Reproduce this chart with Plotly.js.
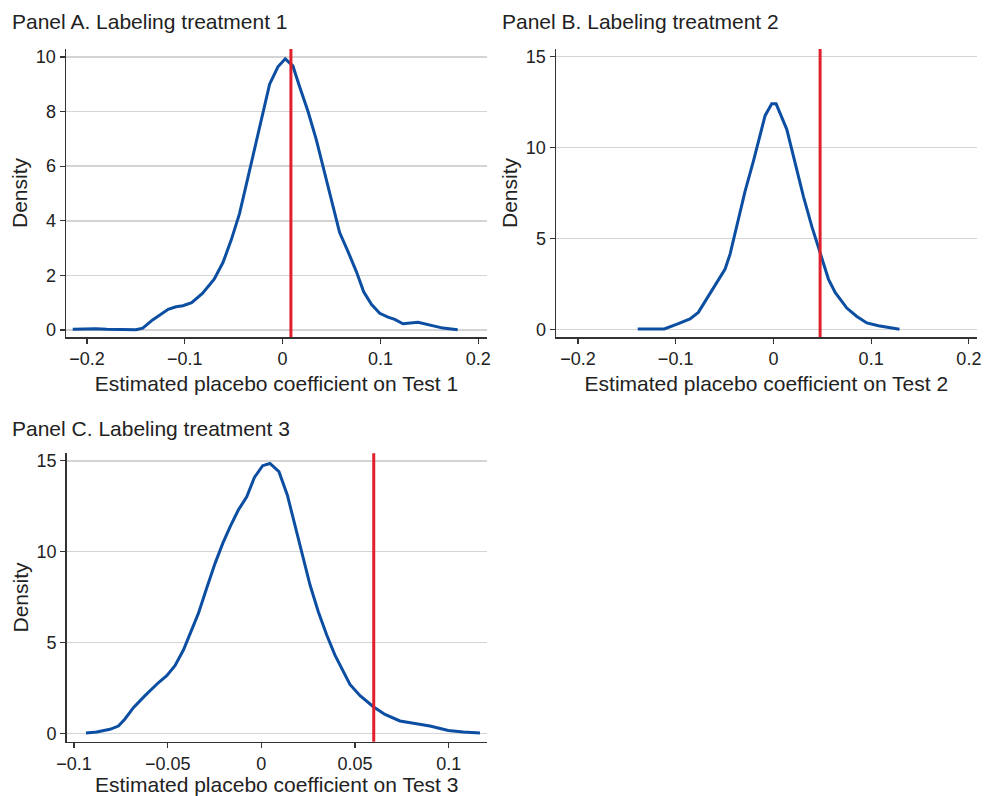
<!DOCTYPE html>
<html>
<head>
<meta charset="utf-8">
<script src="https://cdn.plot.ly/plotly-3.0.1.min.js"></script>
<style>html,body{margin:0;padding:0;background:#fff;}#chart{width:985px;height:796px;}</style>
</head>
<body>
<div id="chart"></div>
<script>
// Panel A data
const xA = [-0.2146,-0.191,-0.180,-0.150,-0.143,-0.133,-0.117,-0.109,-0.102,-0.093,-0.082,-0.070,-0.061,-0.0525,-0.044,-0.034,-0.0218,-0.0133,-0.0048,0.0027,0.0105,0.0174,0.026,0.0345,0.043,0.0515,0.0583,0.0669,0.0754,0.0829,0.0908,0.0993,0.1078,0.1146,0.1231,0.1385,0.1538,0.164,0.179];
const yA = [0.03,0.05,0.03,0.01,0.07,0.37,0.76,0.85,0.89,1.0,1.34,1.86,2.47,3.3,4.27,5.86,7.69,9.0,9.64,9.93,9.67,8.91,8.0,6.96,5.74,4.52,3.57,2.87,2.14,1.40,0.94,0.61,0.47,0.39,0.23,0.28,0.17,0.07,0.01];
const redA = 0.0085;
// Panel B data
const xB = [-0.1388,-0.1245,-0.1116,-0.0972,-0.0853,-0.0768,-0.0648,-0.0563,-0.0494,-0.0443,-0.0375,-0.029,-0.0205,-0.0085,-0.0017,0.0028,0.0137,0.0222,0.0307,0.0393,0.0478,0.0563,0.0632,0.0751,0.0854,0.0956,0.1075,0.1177,0.129];
const yB = [0.04,0.05,0.04,0.33,0.59,0.95,2.01,2.69,3.33,4.15,5.67,7.59,9.24,11.75,12.40,12.40,11.0,9.15,7.32,5.67,4.2,2.78,2.05,1.19,0.73,0.37,0.22,0.13,0.02];
const redB = 0.0478;
// Panel C data
const xC = [-0.0936,-0.0879,-0.0808,-0.0763,-0.0728,-0.0683,-0.0621,-0.055,-0.0505,-0.0461,-0.0416,-0.0336,-0.0292,-0.0247,-0.0206,-0.0167,-0.0123,-0.0078,-0.0037,0.0007,0.0046,0.0094,0.0139,0.0198,0.026,0.0304,0.0349,0.0393,0.0473,0.0527,0.0598,0.066,0.074,0.0812,0.09,0.0998,0.1078,0.1167];
const yC = [0.04,0.09,0.24,0.42,0.81,1.43,2.09,2.80,3.19,3.74,4.60,6.61,7.99,9.36,10.46,11.37,12.29,13.02,14.08,14.73,14.85,14.40,13.11,10.64,8.17,6.70,5.42,4.32,2.71,2.09,1.48,1.06,0.70,0.57,0.42,0.18,0.09,0.04];
const redC = 0.060;

// Tick labels
const xTicksAB = [-0.2,-0.1,0,0.1,0.2];
const xTickTextAB = ['\u22120.2','\u22120.1','0','0.1','0.2'];
const xTicksC = [-0.1,-0.05,0,0.05,0.1];
const xTickTextC = ['\u22120.1','\u22120.05','0','0.05','0.1'];
const yTicksA = [0,2,4,6,8,10];
const yTicksBC = [0,5,10,15];

const panelTitles = ['Panel A. Labeling treatment 1','Panel B. Labeling treatment 2','Panel C. Labeling treatment 3'];
const xTitles = ['Estimated placebo coefficient on Test 1','Estimated placebo coefficient on Test 2','Estimated placebo coefficient on Test 3'];

const BLUE = '#0b4ea2', RED = '#e0202a', AX = '#333333', GRID = '#d4d4d4';
const FONT = 'Liberation Sans, Arial, Helvetica, sans-serif';
const W = 985, H = 796;

function line(x, y, xa, ya) {
  return {x: x, y: y, xaxis: xa, yaxis: ya, type: 'scatter', mode: 'lines',
          line: {color: BLUE, width: 3}, hoverinfo: 'skip', showlegend: false};
}
const data = [line(xA, yA, 'x', 'y'), line(xB, yB, 'x2', 'y2'), line(xC, yC, 'x3', 'y3')];

function xax(dom, range, tv, tt, title, anchor) {
  return {domain: dom, range: range, anchor: anchor, tickvals: tv, ticktext: tt,
    showgrid: false, zeroline: false, showline: true, linecolor: AX, linewidth: 1.5,
    ticks: 'outside', ticklen: 5, tickwidth: 1.2, tickcolor: AX,
    tickfont: {family: FONT, size: 18, color: '#222'},
    title: {text: title, font: {family: FONT, size: 21, color: '#222'}, standoff: 8},
    fixedrange: true};
}
function yax(dom, range, tv, anchor) {
  return {domain: dom, range: range, anchor: anchor, tickvals: tv,
    showgrid: true, gridcolor: GRID, gridwidth: 1.5, zeroline: false,
    showline: true, linecolor: AX, linewidth: 1.5,
    ticks: 'outside', ticklen: 5, tickwidth: 1.2, tickcolor: AX,
    tickfont: {family: FONT, size: 18, color: '#222'},
    title: {text: 'Density', font: {family: FONT, size: 21, color: '#222'}, standoff: 2},
    fixedrange: true};
}

const topDom = [1 - 337/H, 1 - 49/H];
const botDom = [1 - 741.7/H, 1 - 453.3/H];

function vline(xv, xr, yr) {
  return {type: 'line', xref: xr, yref: yr + ' domain', x0: xv, x1: xv, y0: 0, y1: 1,
          line: {color: RED, width: 3}};
}
function ptitle(text, xpx, ypx) {
  return {text: text, xref: 'paper', yref: 'paper', x: xpx / W, y: 1 - ypx / H,
          xanchor: 'left', yanchor: 'middle', showarrow: false,
          font: {family: FONT, size: 21, color: '#222'}};
}

const layout = {
  width: W, height: H, margin: {l: 0, r: 0, t: 0, b: 0},
  paper_bgcolor: '#fff', plot_bgcolor: '#fff', showlegend: false,
  xaxis: xax([66/W, 487/W], [-0.2215, 0.209], xTicksAB, xTickTextAB, xTitles[0], 'y'),
  yaxis: yax(topDom, [-0.256, 10.29], yTicksA, 'x'),
  xaxis2: xax([556/W, 976.7/W], [-0.2224, 0.208], xTicksAB, xTickTextAB, xTitles[1], 'y2'),
  yaxis2: yax(topDom, [-0.40, 15.41], yTicksBC, 'x2'),
  xaxis3: xax([66.7/W, 486.7/W], [-0.1039, 0.1203], xTicksC, xTickTextC, xTitles[2], 'y3'),
  yaxis3: yax(botDom, [-0.44, 15.41], yTicksBC, 'x3'),
  shapes: [vline(redA, 'x', 'y'), vline(redB, 'x2', 'y2'), vline(redC, 'x3', 'y3')],
  annotations: [ptitle(panelTitles[0], 10, 22), ptitle(panelTitles[1], 500, 22), ptitle(panelTitles[2], 10, 428)]
};

Plotly.newPlot('chart', data, layout, {displayModeBar: false, staticPlot: true});
</script>
</body>
</html>
